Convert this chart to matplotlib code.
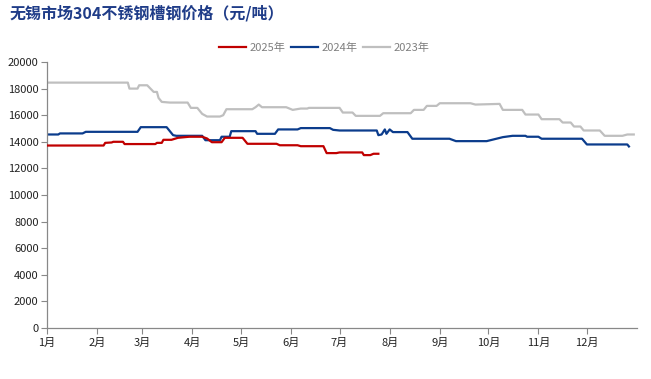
import matplotlib
matplotlib.use("Agg")
import matplotlib.pyplot as plt

plt.rcParams['font.family'] = ['Noto Sans CJK SC', 'DejaVu Sans']

# day-of-year breakpoints and prices (元/吨)
days_2023 = [0, 50, 51, 56, 57, 62, 64, 66, 68, 69, 71, 76, 87, 89, 93, 96, 99, 107, 109, 111,
             127, 129, 131, 133, 148, 152, 157, 161, 162, 181, 183, 189, 191, 206, 208, 225,
             227, 233, 235, 241, 243, 262, 265, 280, 282, 294, 296, 304, 306, 317, 319, 324,
             326, 330, 332, 342, 345, 356, 359, 363]
vals_2023 = [18450, 18450, 18000, 18000, 18250, 18250, 18000, 17750, 17750, 17300, 17000, 16950,
             16950, 16550, 16550, 16100, 15900, 15900, 16000, 16450, 16450, 16600, 16800, 16600,
             16600, 16400, 16500, 16500, 16550, 16550, 16200, 16200, 15950, 15950, 16150, 16150,
             16400, 16400, 16700, 16700, 16900, 16900, 16800, 16850, 16400, 16400, 16050, 16050,
             15700, 15700, 15450, 15450, 15150, 15150, 14850, 14850, 14450, 14450, 14550, 14550]

days_2024 = [0, 7, 8, 22, 24, 56, 58, 74, 76, 78, 80, 96, 98, 107, 108, 113, 114, 129, 130, 141,
             143, 155, 157, 175, 177, 181, 204, 205, 207, 209, 210, 212, 214, 223, 226, 249, 253,
             272, 282, 288, 296, 297, 304, 306, 331, 334, 359, 360]
vals_2024 = [14550, 14550, 14630, 14630, 14750, 14750, 15100, 15100, 14800, 14500, 14450, 14450,
             14120, 14120, 14380, 14380, 14800, 14800, 14600, 14600, 14930, 14930, 15030, 15030,
             14900, 14850, 14850, 14500, 14550, 14930, 14600, 14930, 14730, 14730, 14230, 14230,
             14050, 14050, 14350, 14450, 14450, 14380, 14380, 14230, 14230, 13800, 13800, 13650]

days_2025 = [0, 35, 36, 40, 41, 47, 48, 67, 68, 71, 72, 77, 81, 88, 96, 99, 102, 108, 110, 121,
             124, 142, 144, 155, 157, 171, 173, 179, 181, 195, 196, 200, 202, 205]
vals_2025 = [13720, 13720, 13920, 13950, 14000, 14000, 13830, 13830, 13920, 13920, 14150, 14150,
             14300, 14380, 14380, 14250, 13970, 13970, 14300, 14300, 13850, 13850, 13740, 13740,
             13670, 13670, 13150, 13150, 13200, 13200, 13000, 13000, 13100, 13100]

month_starts = [0, 31, 59, 90, 120, 151, 181, 212, 243, 273, 304, 334]
month_labels = ['1月', '2月', '3月', '4月', '5月', '6月', '7月', '8月', '9月', '10月', '11月', '12月']
y_ticks = [0, 2000, 4000, 6000, 8000, 10000, 12000, 14000, 16000, 18000, 20000]

fig = plt.figure(figsize=(6.51, 3.79), dpi=100)
ax = fig.add_axes([0.0722, 0.1346, 0.9063, 0.7018])

ax.plot(days_2025, vals_2025, color='#C00000', lw=1.6, label='2025年', zorder=3)
ax.plot(days_2024, vals_2024, color='#0B3C8C', lw=1.6, label='2024年', zorder=2)
ax.plot(days_2023, vals_2023, color='#BFBFBF', lw=1.6, label='2023年', zorder=1)

ax.set_xlim(0, 365)
ax.set_ylim(0, 20000)
ax.set_xticks(month_starts)
ax.set_xticklabels(month_labels)
ax.set_yticks(y_ticks)
ax.set_yticklabels([str(v) for v in y_ticks])
ax.tick_params(axis='both', labelsize=8, colors='#222222', length=4, width=0.8)
ax.tick_params(axis='both', color='#888888')
ax.tick_params(axis='x', pad=3)
ax.tick_params(axis='y', pad=2)

for s in ['top', 'right']:
    ax.spines[s].set_visible(False)
for s in ['left', 'bottom']:
    ax.spines[s].set_color('#888888')
    ax.spines[s].set_linewidth(0.9)

leg = ax.legend(loc='center', bbox_to_anchor=(0.47, 1.052), ncol=3, frameon=False,
                fontsize=8, handlelength=2.4, handletextpad=0.35, columnspacing=0.5)
for t in leg.get_texts():
    t.set_color('#7F7F7F')

fig.text(0.015, 0.965, '无锡市场304不锈钢槽钢价格（元/吨）', fontsize=11.5, fontweight='bold',
         color='#1F3C88', ha='left', va='center')

fig.savefig('out.png', dpi=100)
